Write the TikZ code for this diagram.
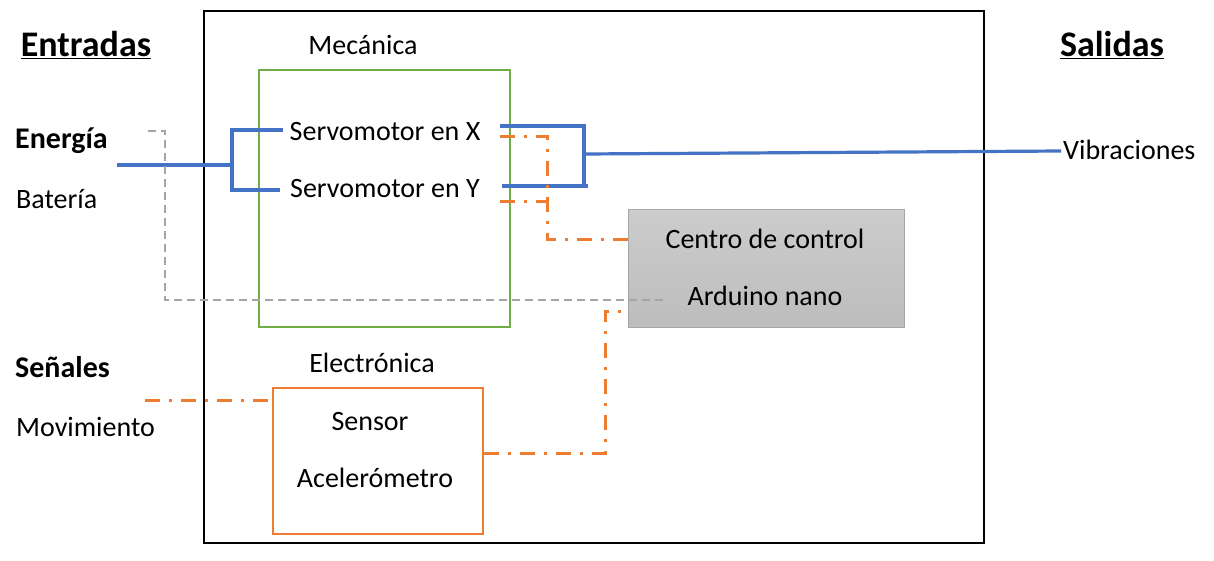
\documentclass[tikz,border=0pt]{standalone}
\usepackage{fontspec}
\setmainfont{Carlito}
\definecolor{lnblue}{HTML}{4472C4}
\definecolor{lnorange}{HTML}{ED7D31}
\definecolor{lngreen}{HTML}{70AD47}
\definecolor{lngray}{HTML}{A5A5A5}
\begin{document}
\begin{tikzpicture}[
    x=1pt, y=-1pt,
    every node/.style={font=\fontsize{28}{32}\selectfont, inner sep=2pt},
    hdr/.style={font=\fontsize{36}{40}\selectfont\bfseries},
    inlbl/.style={font=\fontsize{30}{34}\selectfont\bfseries},
    sidelbl/.style={anchor=west},
    boxsys/.style={draw=black, line width=1.5pt, minimum width=780pt, minimum height=532pt},
    boxmec/.style={draw=lngreen, line width=1.4pt, minimum width=251pt, minimum height=257pt},
    boxctrl/.style={draw=gray!70, line width=1pt, top color=gray!40, bottom color=gray!52,
                minimum width=276pt, minimum height=118pt},
    boxsens/.style={draw=lnorange, line width=1.4pt, minimum width=210pt, minimum height=146pt},
    pwr/.style={lnblue, line width=3.2pt},
    sig/.style={lnorange, line width=3pt, dash pattern=on 15pt off 9pt on 3pt off 9pt},
    gnd/.style={lngray, line width=1.6pt, dash pattern=on 8pt off 5pt},
  ]
  \useasboundingbox (0,0) rectangle (1214,560);

  % === Blocks ===
  \node[boxsys]  (sys)  at (594,277)   {};
  \node[boxmec]  (mec)  at (384.5,198.5) {};
  \node[boxctrl] (ctrl) at (766,268)   {};
  \node[boxsens] (sens) at (378,461)   {};

  % === Headers ===
  \node[hdr] (ent) at (86,45)   {\underline{Entradas}};
  \node[hdr] (sal) at (1112,45) {\underline{Salidas}};

  % === Inputs ===
  \node[inlbl, sidelbl] (energ) at (13,141) {Energía};
  \node[sidelbl]        (bat)   at (14,199) {Batería};
  \node[inlbl, sidelbl] (senal) at (13,367) {Señales};
  \node[sidelbl]        (movi)  at (14,427) {Movimiento};

  % === Block texts ===
  \node (mectit) at (363,45)  {Mecánica};
  \node (servx)  at (385,132) {Servomotor en X};
  \node (servy)  at (385,189) {Servomotor en Y};
  \node (cc)     at (765,239) {Centro de control};
  \node (ard)    at (765,296) {Arduino nano};
  \node (eletit) at (372,363) {Electrónica};
  \node (sensr)  at (370,422) {Sensor};
  \node (acel)   at (375,478) {Acelerómetro};
  \node[sidelbl] (vib) at (1061,150) {Vibraciones};

  % === Junction points ===
  \coordinate (pin) at (117,165);
  \coordinate (jl)  at (232,165);
  \coordinate (jr)  at (584,154);
  \coordinate (sj)  at (547,136);
  \coordinate (aj)  at (605,453);
  \coordinate (min) at (145,400);
  \coordinate (gin) at (148,131);

  % === Power lines ===
  \draw[pwr] (pin) -- (jl);
  \draw[pwr] ([xshift=-5pt]servx.west |- 0,130) -| (jl |- 0,190) -- ([xshift=-8pt]servy.west |- 0,190);
  \draw[pwr] ([xshift=18pt]servx.east |- 0,126) -| (jr |- 0,186);
  \draw[pwr] ([xshift=20pt]servy.east |- 0,186) -- ([xshift=4pt]jr |- 0,186);
  \draw[pwr] (jr) -- (vib.west |- 0,151);

  % === Ground (dashed) ===
  \draw[gnd] (gin) -| (165,300) -- ([xshift=-18pt]ard.west |- 0,300);

  % === Signal lines ===
  \draw[sig] ([xshift=18pt]servx.east |- sj) -| (sj |- cc) -- ([xshift=5pt]ctrl.west |- cc);
  \draw[sig] ([xshift=18pt]servy.east |- 0,201) -- (sj |- 0,201);
  \draw[sig] (sens.east |- aj) -| (aj |- 0,311) -- ([xshift=-6pt]ctrl.west |- 0,311);
  \draw[sig] (min) -- (sens.west |- min);

\end{tikzpicture}
\end{document}
